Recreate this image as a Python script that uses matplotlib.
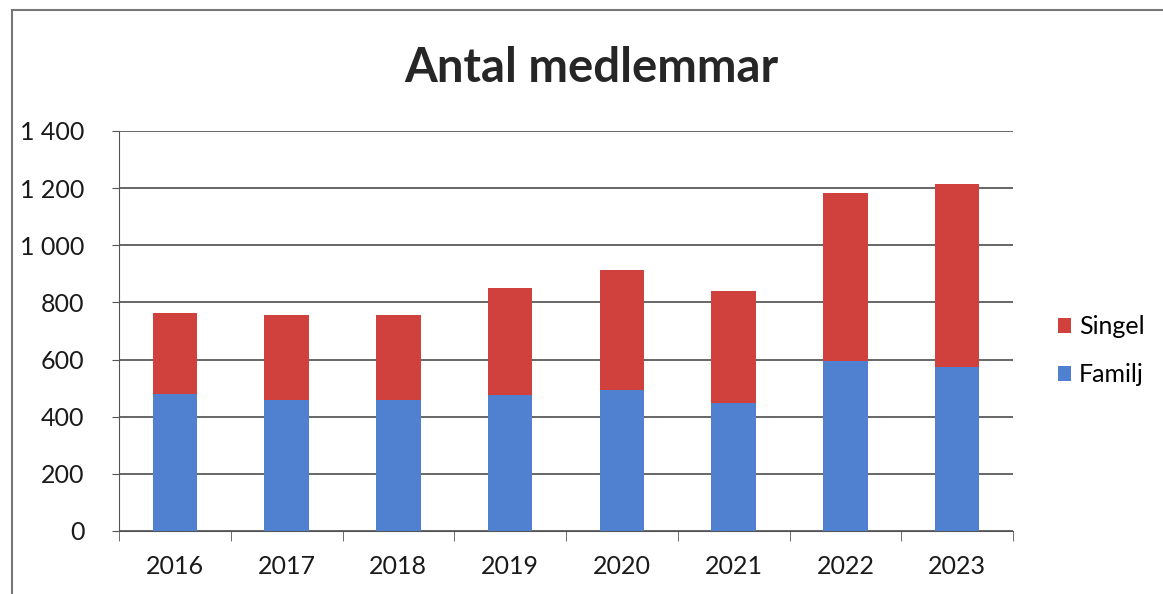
import matplotlib.pyplot as plt
from matplotlib.patches import Rectangle
from matplotlib.ticker import FuncFormatter, MultipleLocator

# --- Données ---
annees = ["2016", "2017", "2018", "2019", "2020", "2021", "2022", "2023"]
familj = [479, 460, 460, 475, 494, 448, 595, 575]
singel = [285, 295, 297, 376, 421, 391, 589, 639]

bleu = "#4f81d0"
rouge = "#d0413e"

plt.rcParams["font.family"] = ["Lato", "DejaVu Sans"]

fig = plt.figure(figsize=(11.63, 5.94), dpi=100)
ax = fig.add_axes([119 / 1163, 1 - 531 / 594, (1013 - 119) / 1163, 400 / 594])

x = range(len(annees))
ax.bar(x, familj, width=0.4, color=bleu, label="Familj", zorder=3)
ax.bar(x, singel, width=0.4, bottom=familj, color=rouge, label="Singel", zorder=3)

# Axes
ax.set_xlim(-0.5, len(annees) - 0.5)
ax.set_ylim(0, 1400)
ax.yaxis.set_major_locator(MultipleLocator(200))
ax.yaxis.set_major_formatter(FuncFormatter(lambda v, p: f"{int(v):,}".replace(",", " ")))
ax.set_xticks(list(x))
ax.set_xticklabels(annees)
ax.set_xticks([i - 0.5 for i in range(len(annees) + 1)], minor=True)
ax.tick_params(axis="x", which="major", length=0, pad=17, labelsize=18, labelcolor="#1a1a1a")
ax.tick_params(axis="x", which="minor", length=7, direction="out", color="#555555")
ax.tick_params(axis="y", length=5, direction="out", color="#555555", labelsize=18,
               pad=20, labelcolor="#1a1a1a")

ax.grid(axis="y", color="#5a5a5a", linewidth=1.3, zorder=0)
for s in ["top", "right"]:
    ax.spines[s].set_visible(False)
ax.spines["left"].set_color("#555555")
ax.spines["bottom"].set_color("#555555")

# Titre
fig.text(591 / 1163, 1 - 68 / 594, "Antal medlemmar", ha="center", va="center",
         fontsize=34, fontweight="bold", color="#262626")

# Légende
handles, labels = ax.get_legend_handles_labels()
fig.legend(handles[::-1], labels[::-1], loc="center left",
           bbox_to_anchor=(1035 / 1163, 1 - 351 / 594), frameon=False,
           fontsize=18, handlelength=0.55, handleheight=0.55, handletextpad=0.3,
           labelspacing=1.0)

# Cadre
fig.patches.append(Rectangle((12 / 1163, -0.2), 1.2, 1.2 - 10 / 594, transform=fig.transFigure,
                             fill=False, edgecolor="#777777", linewidth=1.5))

fig.savefig("out.png", dpi=100)
